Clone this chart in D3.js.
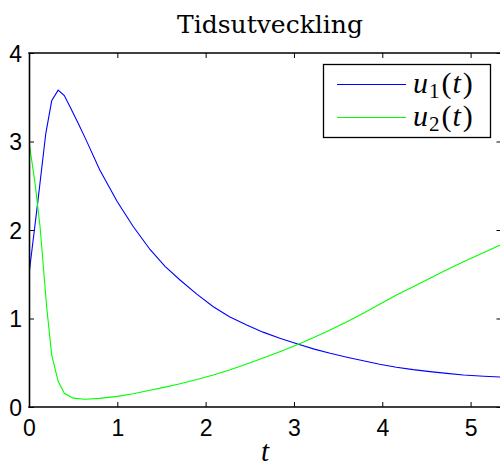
<!DOCTYPE html>
<html>
<head>
<meta charset="utf-8">
<script src="https://cdn.jsdelivr.net/npm/d3@7"></script>
<style>
  body { margin: 0; background: #fff; }
  svg { display: block; }
</style>
</head>
<body>
<svg id="chart" width="500" height="467"></svg>
<script>

// values
let t1 = [0, 0.10, 0.19, 0.257, 0.33, 0.40, 0.46, 0.55, 0.65, 0.8, 1.0, 1.18, 1.37, 1.54, 1.71, 1.9, 2.087, 2.27, 2.465, 2.65, 2.84, 3.05, 3.23, 3.41, 3.6, 3.785, 3.97, 4.16, 4.35, 4.54, 4.73, 4.92, 5.15, 5.4];
let u1 = [1.5, 2.32, 3.09, 3.46, 3.58, 3.52, 3.40, 3.22, 3.01, 2.68, 2.32, 2.04, 1.78, 1.59, 1.435, 1.275, 1.133, 1.02, 0.927, 0.846, 0.776, 0.708, 0.654, 0.607, 0.563, 0.523, 0.484, 0.449, 0.422, 0.40, 0.38, 0.362, 0.348, 0.336];

let t2 = [0, 0.068, 0.125, 0.2, 0.257, 0.33, 0.40, 0.5, 0.63, 0.8, 1.0, 1.18, 1.37, 1.54, 1.71, 1.9, 2.087, 2.27, 2.465, 2.65, 2.84, 3.05, 3.23, 3.41, 3.6, 3.785, 3.97, 4.16, 4.35, 4.54, 4.73, 4.92, 5.15, 5.4];
let u2 = [3.0, 2.53, 2.04, 1.13, 0.59, 0.29, 0.155, 0.10, 0.087, 0.097, 0.12, 0.15, 0.19, 0.225, 0.262, 0.31, 0.362, 0.418, 0.485, 0.553, 0.625, 0.708, 0.787, 0.87, 0.963, 1.059, 1.16, 1.266, 1.36, 1.455, 1.55, 1.64, 1.745, 1.86];

let xTicks = [0, 1, 2, 3, 4, 5];
let yTicks = [0, 1, 2, 3, 4];
let seriesNames = ["1", "2"];
let seriesColors = ["#0000ff", "#00ff00"];

let svg = d3.select("svg#chart");
let margin = { "top": 53, "left": 29, "bottom": 407, "right": 501.5 };

let xScale = d3.scaleLinear().domain([0, 5.35]).range([margin.left, margin.right]);
let yScale = d3.scaleLinear().domain([0, 4]).range([margin.bottom, margin.top]);

svg.append("defs").append("clipPath").attr("id", "plotclip")
  .append("rect")
  .attr("x", margin.left).attr("y", margin.top)
  .attr("width", margin.right - margin.left)
  .attr("height", margin.bottom - margin.top);

let line = d3.line()
  .x(d => xScale(d[0]))
  .y(d => yScale(d[1]));

let plot = svg.append("g").attr("clip-path", "url(#plotclip)");
plot.append("path")
  .datum(t1.map((t, i) => [t, u1[i]]))
  .attr("d", line)
  .attr("fill", "none")
  .attr("stroke", seriesColors[0])
  .attr("stroke-width", 1.1);
plot.append("path")
  .datum(t2.map((t, i) => [t, u2[i]]))
  .attr("d", line)
  .attr("fill", "none")
  .attr("stroke", seriesColors[1])
  .attr("stroke-width", 1.1);

// axes, ticks pointing in, on all four sides
let tickLen = 5;
let axisBottom = d3.axisBottom(xScale).tickValues(xTicks).tickFormat(d3.format("d")).tickSize(-tickLen).tickPadding(12).tickSizeOuter(0);
let axisTop = d3.axisTop(xScale).tickValues(xTicks).tickSize(-tickLen).tickFormat("").tickSizeOuter(0);
let axisLeft = d3.axisLeft(yScale).tickValues(yTicks).tickFormat(d3.format("d")).tickSize(-tickLen).tickPadding(7).tickSizeOuter(0);
let axisRight = d3.axisRight(yScale).tickValues(yTicks).tickSize(-tickLen).tickFormat("").tickSizeOuter(0);

let gb = svg.append("g").attr("transform", "translate(0," + margin.bottom + ")").call(axisBottom);
let gt = svg.append("g").attr("transform", "translate(0," + margin.top + ")").call(axisTop);
let gl = svg.append("g").attr("transform", "translate(" + margin.left + ",0)").call(axisLeft);
let gr = svg.append("g").attr("transform", "translate(" + margin.right + ",0)").call(axisRight);

[gb, gt, gl, gr].forEach(g => {
  g.select(".domain").attr("stroke", "#000").attr("stroke-width", 1.6);
  g.selectAll(".tick line").attr("stroke", "#000").attr("stroke-width", 1);
  g.selectAll(".tick text")
    .attr("fill", "#000")
    .style("font-family", "'Liberation Sans', Arial, sans-serif")
    .style("font-size", "23px");
});
gb.select(".domain").attr("d", "M" + (margin.left - 0.8) + ",0H" + (margin.right + 1));
gt.select(".domain").attr("d", "M" + (margin.left - 0.8) + ",0H" + (margin.right + 1));
gl.selectAll(".tick text").attr("dy", "0.36em");
gb.selectAll(".tick text").attr("dy", "0.74em");

// title and x label
svg.append("text")
  .attr("x", 270).attr("y", 33)
  .attr("text-anchor", "middle")
  .style("font-family", "'DejaVu Serif', serif")
  .style("font-size", "25px")
  .text("Tidsutveckling");

svg.append("text")
  .attr("x", 265).attr("y", 461)
  .attr("text-anchor", "middle")
  .style("font-family", "'Liberation Serif', 'Times New Roman', serif")
  .style("font-style", "italic")
  .style("font-size", "29px")
  .text("t");

// legend
let legend = svg.append("g");
legend.append("rect")
  .attr("x", 323.5).attr("y", 64.5)
  .attr("width", 167).attr("height", 73)
  .attr("fill", "#fff")
  .attr("stroke", "#000")
  .attr("stroke-width", 1.3);

let legendY = [84.5, 117.5];
seriesNames.forEach((name, i) => {
  legend.append("line")
    .attr("x1", 337).attr("x2", 406)
    .attr("y1", legendY[i]).attr("y2", legendY[i])
    .attr("stroke", seriesColors[i])
    .attr("stroke-width", 1.1);
  let txt = legend.append("text")
    .attr("x", 413).attr("y", legendY[i] + 8)
    .style("font-family", "'Liberation Serif', 'Times New Roman', serif")
    .style("font-size", "30px");
  txt.append("tspan").style("font-style", "italic").text("u");
  txt.append("tspan").attr("dy", 5).attr("dx", 1).style("font-size", "21px").text(name);
  txt.append("tspan").attr("dy", -5).attr("dx", 2).text("(");
  txt.append("tspan").attr("dx", 1).style("font-style", "italic").text("t");
  txt.append("tspan").attr("dx", 2).text(")");
});

</script>
</body>
</html>
